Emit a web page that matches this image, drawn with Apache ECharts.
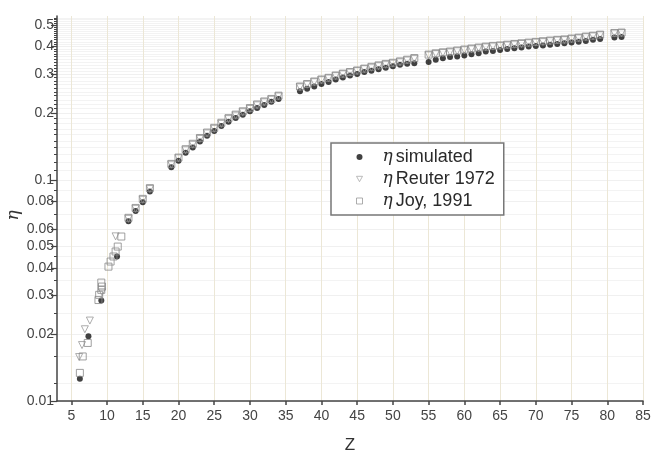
<!DOCTYPE html>
<html>
<head>
<meta charset="utf-8">
<script src="https://cdn.jsdelivr.net/npm/echarts@6/dist/echarts.min.js"></script>
<style>
  html, body { margin: 0; padding: 0; background: #fff; }
  #chart { width: 652px; height: 452px; }
</style>
</head>
<body>
<div id="chart"></div>
<script>
// simulated backscatter coefficient
const simZ = [6.2, 7.4, 9.2, 11.4, 13, 14, 15, 16, 19, 20, 21, 22, 23, 24, 25, 26, 27, 28, 29, 30, 31, 32, 33, 34,
  37, 38, 39, 40, 41, 42, 43, 44, 45, 46, 47, 48, 49, 50, 51, 52, 53,
  55, 56, 57, 58, 59, 60, 61, 62, 63, 64, 65, 66, 67, 68, 69, 70, 71, 72, 73, 74, 75, 76, 77, 78, 79, 81, 82];
const simEta = [0.0126, 0.0196, 0.0285, 0.045, 0.065, 0.0722, 0.0792, 0.0886, 0.114, 0.122, 0.1325, 0.140, 0.149, 0.158, 0.166, 0.175, 0.183, 0.190, 0.197, 0.204, 0.211, 0.218, 0.225, 0.232,
  0.251, 0.258, 0.264, 0.271, 0.277, 0.284, 0.290, 0.296, 0.301, 0.307, 0.311, 0.316, 0.321, 0.326, 0.331, 0.335, 0.336,
  0.341, 0.349, 0.354, 0.359, 0.361, 0.365, 0.369, 0.373, 0.380, 0.382, 0.386, 0.390, 0.393, 0.396, 0.400, 0.403, 0.405, 0.408, 0.411, 0.414, 0.417, 0.421, 0.424, 0.429, 0.433, 0.440, 0.442];

// Reuter 1972
const reuterZ = [6.1, 6.5, 6.9, 7.6, 9.3, 11.2, 13, 14, 15, 16, 19, 20, 21, 22, 23, 24, 25, 26, 27, 28, 29, 30, 31, 32, 33, 34,
  37, 38, 39, 40, 41, 42, 43, 44, 45, 46, 47, 48, 49, 50, 51, 52, 53,
  55, 56, 57, 58, 59, 60, 61, 62, 63, 64, 65, 66, 67, 68, 69, 70, 71, 72, 73, 74, 75, 76, 77, 78, 79, 81, 82];
const reuterEta = [0.0158, 0.0179, 0.0211, 0.0231, 0.031, 0.0555, 0.0666, 0.0739, 0.0812, 0.0908, 0.117, 0.125, 0.136, 0.144, 0.153, 0.162, 0.170, 0.179, 0.188, 0.195, 0.202, 0.209, 0.217, 0.224, 0.230, 0.238,
  0.262, 0.269, 0.276, 0.282, 0.287, 0.294, 0.300, 0.305, 0.310, 0.316, 0.321, 0.326, 0.331, 0.335, 0.340, 0.346, 0.352,
  0.365, 0.370, 0.374, 0.377, 0.381, 0.385, 0.389, 0.393, 0.397, 0.400, 0.402, 0.405, 0.408, 0.411, 0.414, 0.417, 0.420, 0.423, 0.426, 0.428, 0.432, 0.436, 0.441, 0.445, 0.450, 0.458, 0.460];

// Joy 1991 database
const joyZ = [6.2, 6.6, 7.3, 8.8, 8.9, 9.2, 9.3, 9.2, 10.2, 10.5, 10.9, 11.2, 11.5, 12, 13, 14, 15, 16, 19, 20, 21, 22, 23, 24, 25, 26, 27, 28, 29, 30, 31, 32, 33, 34,
  37, 38, 39, 40, 41, 42, 43, 44, 45, 46, 47, 48, 49, 50, 51, 52, 53,
  55, 56, 57, 58, 59, 60, 61, 62, 63, 64, 65, 66, 67, 68, 69, 70, 71, 72, 73, 74, 75, 76, 77, 78, 79, 81, 82];
const joyEta = [0.0134, 0.0159, 0.0183, 0.0286, 0.0302, 0.0318, 0.0329, 0.0343, 0.0405, 0.0427, 0.045, 0.0474, 0.0499, 0.0554, 0.0673, 0.0746, 0.082, 0.0917, 0.118, 0.126, 0.1375, 0.1455, 0.1545, 0.1635, 0.1717, 0.181, 0.190, 0.197, 0.204, 0.211, 0.219, 0.226, 0.232, 0.240,
  0.264, 0.271, 0.278, 0.284, 0.289, 0.296, 0.302, 0.307, 0.312, 0.318, 0.324, 0.329, 0.334, 0.338, 0.343, 0.349, 0.355,
  0.368, 0.373, 0.377, 0.380, 0.384, 0.388, 0.392, 0.396, 0.400, 0.403, 0.405, 0.408, 0.411, 0.414, 0.417, 0.420, 0.423, 0.426, 0.429, 0.431, 0.435, 0.439, 0.444, 0.448, 0.453, 0.461, 0.463];

const xTicks = [5, 10, 15, 20, 25, 30, 35, 40, 45, 50, 55, 60, 65, 70, 75, 80, 85];
const yLabels = [0.01, 0.02, 0.03, 0.04, 0.05, 0.06, 0.08, 0.1, 0.2, 0.3, 0.4, 0.5];
const yMinor = [0.012, 0.016, 0.025, 0.035, 0.045, 0.07, 0.09,
  0.11, 0.12, 0.13, 0.14, 0.15, 0.16, 0.17, 0.18, 0.19, 0.21, 0.22, 0.23, 0.24, 0.25, 0.26, 0.27, 0.28, 0.29,
  0.31, 0.32, 0.33, 0.34, 0.35, 0.36, 0.37, 0.38, 0.39, 0.41, 0.42, 0.43, 0.44, 0.45, 0.46, 0.47, 0.48, 0.49, 0.51, 0.52, 0.53, 0.54];

const zip = (a, b) => a.map((v, i) => [v, b[i]]);
const font = 'Liberation Sans, Arial, sans-serif';
const downTriangle = 'path://M0,0L10,0L5,9Z';

const chart = echarts.init(document.getElementById('chart'));
chart.setOption({
  animation: false,
  backgroundColor: '#fff',
  grid: { left: 57, right: 9, top: 16, bottom: 51, containLabel: false, outerBoundsMode: 'none' },
  legend: {
    orient: 'vertical',
    left: 331,
    top: 143,
    padding: [4, 9, 4, 25],
    itemWidth: 6,
    itemHeight: 6,
    itemGap: 2,
    borderColor: '#777',
    borderWidth: 1.5,
    backgroundColor: '#fff',
    textStyle: {
      fontFamily: font, fontSize: 18, color: '#2a2a2a', lineHeight: 20,
      rich: { g: { fontFamily: 'DejaVu Serif', fontStyle: 'italic', fontSize: 17, color: '#2a2a2a', padding: [0, 3, 0, 15] } }
    },
    formatter: name => '{g|η}' + name.slice(2),
    data: [
      { name: 'η simulated', icon: 'circle' },
      { name: 'η Reuter 1972', icon: downTriangle, itemStyle: { color: '#fff', borderColor: '#aaa', borderWidth: 1 } },
      { name: 'η Joy, 1991', icon: 'rect', itemStyle: { color: '#fff', borderColor: '#999', borderWidth: 1 } }
    ]
  },
  xAxis: {
    type: 'value',
    min: 3,
    max: 85,
    name: 'Z',
    nameLocation: 'middle',
    nameGap: 36,
    nameTextStyle: { fontFamily: font, fontSize: 17, color: '#333' },
    axisLine: { lineStyle: { color: '#444', width: 1.5 } },
    axisTick: { customValues: xTicks, length: 4, lineStyle: { color: '#444', width: 1.5 } },
    axisLabel: { customValues: xTicks, fontFamily: font, fontSize: 14, color: '#444', margin: 8 },
    splitLine: { show: true, lineStyle: { color: '#ece7d6', width: 1 } }
  },
  yAxis: [{
    type: 'log',
    min: 0.01,
    max: 0.55,
    name: 'η',
    nameLocation: 'middle',
    nameGap: 35,
    nameMoveOverlap: false,
    nameTextStyle: { fontFamily: 'DejaVu Serif', fontStyle: 'italic', fontSize: 17, color: '#333', padding: [0, 14, 0, 0] },
    axisLine: { show: true, lineStyle: { color: '#444', width: 1.5 } },
    axisTick: { customValues: yLabels, length: 6, lineStyle: { color: '#444', width: 1.2 } },
    axisLabel: { customValues: yLabels, fontFamily: font, fontSize: 14, color: '#444', margin: 3, formatter: v => String(+v.toPrecision(3)) },
    splitLine: { show: true, lineStyle: { color: '#f0f0f0', width: 1 } }
  }, {
    type: 'log',
    min: 0.01,
    max: 0.55,
    position: 'left',
    axisLine: { show: false },
    axisTick: { customValues: yMinor, length: 3, lineStyle: { color: '#444', width: 1 } },
    axisLabel: { show: false },
    splitLine: { show: true, lineStyle: { color: '#f3f3f3', width: 1 } }
  }],
  series: [{
    name: 'η simulated',
    type: 'scatter',
    symbol: 'circle',
    symbolSize: 6,
    itemStyle: { color: '#111' },
    data: zip(simZ, simEta)
  }, {
    name: 'η Reuter 1972',
    type: 'scatter',
    symbol: downTriangle,
    symbolSize: 7,
    itemStyle: { color: 'rgba(255,255,255,0)', borderColor: '#999', borderWidth: 1 },
    data: zip(reuterZ, reuterEta)
  }, {
    name: 'η Joy, 1991',
    type: 'scatter',
    symbol: 'rect',
    symbolSize: 7,
    itemStyle: { color: 'rgba(255,255,255,0)', borderColor: '#888', borderWidth: 1 },
    data: zip(joyZ, joyEta)
  }]
});
</script>
</body>
</html>
